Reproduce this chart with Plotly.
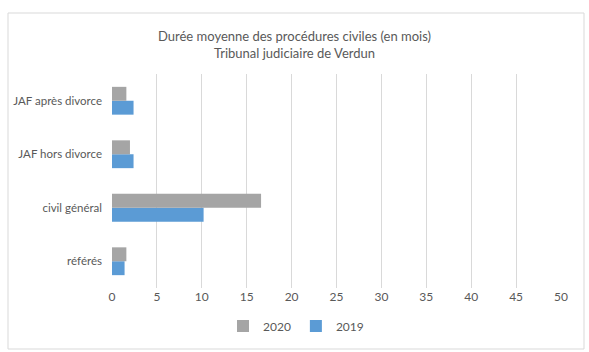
import plotly.graph_objects as go

categories = ["référés", "civil général", "JAF hors divorce", "JAF après divorce"]
values_2019 = [1.4, 10.2, 2.4, 2.4]
values_2020 = [1.6, 16.6, 2.0, 1.6]
x_ticks = [0, 5, 10, 15, 20, 25, 30, 35, 40, 45, 50]

FONT = "Lato, 'Open Sans', sans-serif"
TXT = "#595959"

fig = go.Figure()
fig.add_trace(go.Bar(y=categories, x=values_2019, name="2019", orientation="h",
                     marker=dict(color="#5B9BD5", line=dict(width=0))))
fig.add_trace(go.Bar(y=categories, x=values_2020, name="2020", orientation="h",
                     marker=dict(color="#A5A5A5", line=dict(width=0))))

W, H = 589, 352
l, r, t, b = 112, 28, 74, 64
pw, ph = W - l - r, H - t - b

def px_to_paper_x(px):
    return (px - l) / pw

def px_to_paper_y(py):
    return (H - b - py) / ph

fig.update_layout(
    width=W, height=H,
    margin=dict(l=l, r=r, t=t, b=b),
    paper_bgcolor="white", plot_bgcolor="white",
    barmode="group", bargap=0.48, bargroupgap=0,
    font=dict(family=FONT, size=12, color=TXT),
    title=dict(text="Durée moyenne des procédures civiles (en mois)<br>Tribunal judiciaire de Verdun",
               x=0.5, xanchor="center", xref="container",
               y=1 - 41 / H, yanchor="middle",
               font=dict(family=FONT, size=13, color=TXT)),
    xaxis=dict(range=[0, 50], tickvals=x_ticks, showgrid=True, gridcolor="#D9D9D9",
               gridwidth=1, zeroline=False, showline=False, ticks="",
               tickfont=dict(size=12, color=TXT)),
    yaxis=dict(showgrid=False, zeroline=False, showline=False, ticks="",
               ticklabelstandoff=9, tickfont=dict(size=11.5, color=TXT)),
    legend=dict(orientation="h", x=px_to_paper_x(296), xanchor="center",
                y=px_to_paper_y(326), yanchor="middle", traceorder="reversed",
                font=dict(size=12, color=TXT), itemwidth=30),
    showlegend=True,
    shapes=[dict(type="rect", xref="paper", yref="paper",
                 x0=px_to_paper_x(8), x1=px_to_paper_x(584),
                 y0=px_to_paper_y(349), y1=px_to_paper_y(13),
                 line=dict(color="#D9D9D9", width=1), fillcolor="rgba(0,0,0,0)",
                 layer="below")],
)

fig.write_html("out.html")
